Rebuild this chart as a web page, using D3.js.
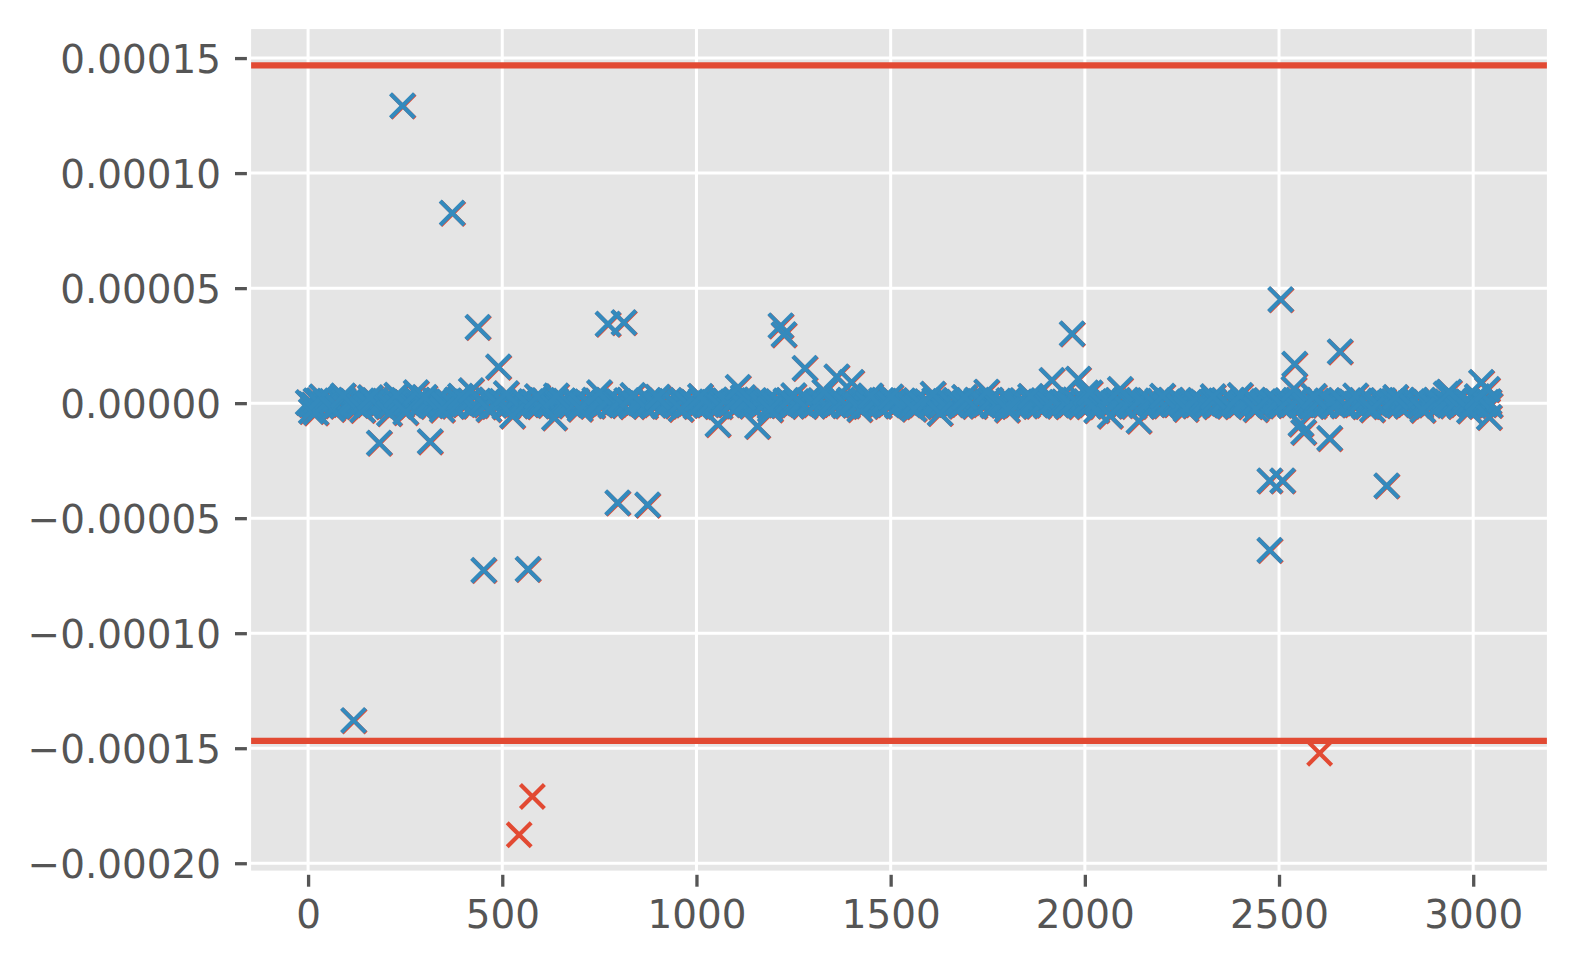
<!DOCTYPE html>
<html><head><meta charset="utf-8">
<script src="https://cdn.jsdelivr.net/npm/d3@7"></script>
<style>body{margin:0;background:#fff}svg{display:block}</style>
</head><body>
<svg id="chart" width="1578" height="966"></svg>
<script>
// values are given in millionths (×1e-6)
const UNIT = 1e-6;
const threshold = 146.8;

// dense band of near-zero residuals: [index, value]
const bandPoints = [
[0,0.3],[14,-0.8],[27,1.2],[41,-0.4],[55,0.9],[68,-1.3],[82,0.5],[96,-0.2],[110,1.4],[123,-0.9],
[137,0.2],[151,-1.1],[164,0.7],[178,-0.5],[192,1.0],[205,-1.4],[219,0.4],[233,-0.3],[246,1.3],[260,-0.7],
[274,0.1],[287,-1.2],[301,0.8],[315,-0.6],[328,1.1],[342,-0.1],[356,0.6],[369,-1.0],[383,1.5],[397,-0.4],
[410,0.3],[424,-1.3],[438,0.9],[451,-0.2],[465,1.2],[479,-0.8],[492,0.5],[506,-1.5],[520,0.2],[533,-0.6],
[547,1.0],[561,-0.3],[574,0.7],[588,-1.1],[602,1.3],[615,-0.5],[629,0.4],[643,-0.9],[656,1.1],[670,-0.2],
[684,0.6],[697,-1.2],[711,0.9],[725,-0.4],[738,1.4],[752,-0.7],[766,0.2],[779,-1.0],[793,0.8],[807,-0.3],
[820,1.2],[834,-1.4],[848,0.5],[861,-0.1],[875,1.0],[889,-0.8],[902,0.3],[916,-1.2],[930,1.3],[943,-0.5],
[957,0.7],[971,-0.9],[984,0.1],[998,-1.3],[1012,1.1],[1025,-0.2],[1039,0.6],[1053,-1.0],[1066,1.4],[1080,-0.6],
[1094,0.4],[1107,-1.1],[1121,0.9],[1135,-0.3],[1148,1.2],[1162,-0.7],[1176,0.2],[1189,-1.4],[1203,0.8],[1217,-0.4],
[1230,1.0],[1244,-0.9],[1258,0.5],[1271,-0.1],[1285,1.3],[1299,-1.2],[1312,0.7],[1326,-0.5],[1340,1.1],[1353,-0.8],
[1367,0.3],[1381,-1.0],[1394,1.4],[1408,-0.2],[1422,0.6],[1435,-1.3],[1449,0.9],[1463,-0.6],[1476,1.2],[1490,-0.3],
[1504,0.4],[1517,-1.1],[1531,1.0],[1545,-0.7],[1558,0.2],[1572,-1.4],[1586,0.8],[1599,-0.1],[1613,1.3],[1627,-0.9],
[1640,0.5],[1654,-0.4],[1668,1.1],[1681,-1.2],[1695,0.7],[1709,-0.5],[1722,1.4],[1736,-0.8],[1750,0.3],[1763,-1.0],
[1777,0.9],[1791,-0.2],[1804,1.2],[1818,-1.3],[1832,0.6],[1845,-0.6],[1859,1.0],[1873,-0.3],[1886,0.4],[1900,-1.1],
[1914,1.3],[1927,-0.7],[1941,0.2],[1955,-1.4],[1968,0.8],[1982,-0.4],[1996,1.1],[2009,-0.9],[2023,0.5],[2037,-0.1],
[2050,1.2],[2064,-1.2],[2078,0.7],[2091,-0.5],[2105,1.4],[2119,-0.8],[2132,0.3],[2146,-1.0],[2160,0.9],[2173,-0.3],
[2187,1.0],[2201,-1.3],[2214,0.6],[2228,-0.6],[2242,1.3],[2255,-0.2],[2269,0.4],[2283,-1.1],[2296,1.1],[2310,-0.7],
[2324,0.2],[2337,-1.4],[2351,0.8],[2365,-0.4],[2378,1.2],[2392,-0.9],[2406,0.5],[2419,-0.1],[2433,1.4],[2447,-1.2],
[2460,0.7],[2474,-0.5],[2488,1.0],[2501,-0.8],[2515,0.3],[2529,-1.0],[2542,1.3],[2556,-0.3],[2570,0.6],[2583,-1.3],
[2597,0.9],[2611,-0.6],[2624,1.1],[2638,-0.2],[2652,0.4],[2665,-1.1],[2679,1.2],[2693,-0.7],[2706,0.2],[2720,-1.4],
[2734,0.8],[2747,-0.4],[2761,1.0],[2775,-0.9],[2788,0.5],[2802,-0.1],[2816,1.3],[2829,-1.2],[2843,0.7],[2857,-0.5],
[2870,1.4],[2884,-0.8],[2898,0.3],[2911,-1.0],[2925,0.9],[2939,-0.3],[2952,1.1],[2966,-1.3],[2980,0.6],[2993,-0.6],
[3007,1.2],[3021,-0.2],[3034,0.4],[3043,-0.9]
];

// more near-zero residuals between the ones above
const bandPointsB = [
[7,-0.5],[20,1.1],[34,-1.2],[48,0.3],[61,0.8],[75,-1.0],[89,1.5],[103,-0.3],[116,0.2],[130,-1.4],
[144,0.9],[157,-0.6],[171,1.3],[185,-0.1],[198,0.5],[212,-1.1],[226,1.0],[240,-0.8],[253,0.4],[267,-1.3],
[281,1.2],[294,-0.2],[308,0.6],[322,-0.9],[335,1.4],[349,-0.5],[363,0.1],[376,-1.2],[390,0.7],[404,-0.4],
[417,1.1],[431,-1.0],[445,0.3],[458,-0.7],[472,1.5],[486,-0.1],[499,0.8],[513,-1.3],[527,0.5],[540,-0.3],
[554,1.2],[568,-0.9],[581,0.2],[595,-1.4],[609,0.9],[622,-0.6],[636,1.3],[650,-0.2],[663,0.4],[677,-1.1],
[691,1.0],[704,-0.8],[718,0.6],[732,-1.2],[745,0.3],[759,-0.5],[773,1.4],[786,-0.1],[800,0.7],[814,-1.0],
[827,1.1],[841,-0.4],[855,0.2],[868,-1.3],[882,0.8],[896,-0.6],[909,1.2],[923,-0.2],[937,0.5],[950,-1.1],
[964,1.3],[978,-0.7],[991,0.4],[1005,-0.9],[1019,1.0],[1032,-0.3],[1046,0.1],[1060,-1.4],[1073,0.9],[1087,-0.5],
[1101,1.5],[1114,-0.2],[1128,0.6],[1142,-1.2],[1155,0.3],[1169,-0.8],[1183,1.1],[1196,-0.1],[1210,0.7],[1224,-1.0],
[1237,1.3],[1251,-0.6],[1265,0.2],[1278,-1.3],[1292,0.8],[1306,-0.4],[1319,1.2],[1333,-0.9],[1347,0.5],[1360,-0.2],
[1374,1.0],[1388,-1.1],[1401,0.4],[1415,-0.7],[1429,1.4],[1442,-0.3],[1456,0.6],[1470,-1.2],[1483,0.9],[1497,-0.5],
[1511,1.1],[1524,-0.1],[1538,0.3],[1552,-1.4],[1565,1.2],[1579,-0.6],[1593,0.7],[1606,-0.9],[1620,0.2],[1634,-0.4],
[1647,1.3],[1661,-1.0],[1675,0.5],[1688,-0.2],[1702,1.0],[1716,-1.3],[1729,0.8],[1743,-0.5],[1757,1.4],[1770,-0.7],
[1784,0.1],[1798,-1.1],[1811,0.9],[1825,-0.3],[1839,1.2],[1852,-0.8],[1866,0.4],[1880,-1.2],[1893,0.6],[1907,-0.1],
[1921,1.5],[1934,-0.9],[1948,0.3],[1962,-0.6],[1975,1.1],[1989,-1.4],[2003,0.7],[2016,-0.2],[2030,1.0],[2044,-1.0],
[2057,0.5],[2071,-0.4],[2085,1.3],[2098,-0.7],[2112,0.2],[2126,-1.3],[2139,0.9],[2153,-0.1],[2167,1.2],[2180,-0.6],
[2194,0.4],[2208,-1.1],[2221,1.4],[2235,-0.3],[2249,0.6],[2262,-0.9],[2276,1.1],[2290,-0.5],[2303,0.1],[2317,-1.2],
[2331,0.8],[2344,-0.2],[2358,1.3],[2372,-1.0],[2385,0.3],[2399,-0.7],[2413,1.0],[2426,-1.4],[2440,0.5],[2454,-0.4],
[2467,1.2],[2481,-0.1],[2495,0.7],[2508,-1.1],[2522,0.9],[2536,-0.6],[2549,1.4],[2563,-0.3],[2577,0.2],[2590,-1.2],
[2604,1.0],[2618,-0.8],[2631,0.4],[2645,-0.5],[2659,1.3],[2672,-0.9],[2686,0.6],[2700,-0.2],[2713,1.1],[2727,-1.3],
[2741,0.3],[2754,-0.6],[2768,1.2],[2782,-0.1],[2795,0.8],[2809,-1.0],[2823,0.5],[2836,-0.4],[2850,1.4],[2864,-1.2],
[2877,0.2],[2891,-0.7],[2905,1.0],[2918,-0.3],[2932,0.6],[2946,-1.1],[2959,1.3],[2973,-0.5],[2987,0.4],[3000,-0.9],
[3014,1.1],[3028,-0.6],[3040,0.7]
];

// small deviations that roughen the band edges
const smallDeviations = [
[8,-3.5],[20,-4.1],[35,2.8],[62,-2.6],[90,3.2],[140,-3.0],[160,2.5],[209,-4.5],[228,3.5],[251,-4.0],
[278,4.6],[300,2.6],[345,-2.9],[392,3.1],[420,5.5],[465,-2.7],[510,4.2],[526,-5.5],[590,2.9],[634,-6.3],
[639,3.2],[700,-2.5],[750,4.6],[836,3.4],[900,2.7],[960,-2.6],[1010,3.0],[1120,2.5],[1190,-2.8],[1250,3.3],
[1330,5.0],[1420,-2.7],[1448,3.2],[1500,2.8],[1560,-2.5],[1609,4.0],[1627,-4.4],[1690,2.6],[1747,4.9],[1800,-2.9],
[1860,3.0],[1915,10.0],[1983,10.5],[2003,4.5],[2013,4.5],[2030,-3.2],[2091,6.0],[2200,3.1],[2260,-2.6],[2330,2.9],
[2400,3.4],[2440,-2.7],[2590,3.0],[2697,3.2],[2740,-2.8],[2800,2.6],[2870,-3.0],[2930,4.0],[2938,4.9],[2990,-3.3],
[3010,2.9]
];

// large deviations / outliers
const largeDeviations = [
[117,-137.9],[183,-17.3],[243,129.3],[314,-16.7],[371,82.7],[437,33.0],[452,-72.6],[490,15.8],[542,-187.4],[566,-72.2],
[576,-170.7],[772,34.4],[813,35.1],[797,-43.3],[874,-44.2],[1055,-9.2],[1107,6.9],[1157,-10.0],[1217,33.7],[1225,29.8],
[1279,15.2],[1361,11.5],[1399,9.1],[1967,30.2],[2065,-5.5],[2139,-7.7],[2476,-33.7],[2476,-63.9],[2504,45.1],[2509,-33.7],
[2540,17.0],[2538,6.2],[2556,-9.0],[2563,-12.6],[2630,-15.3],[2657,22.4],[2603,-151.9],[2777,-35.9],[3021,9.1],[3036,6.0],
[3041,-6.1]
];

const xTicks = [0,500,1000,1500,2000,2500,3000];
const xTickLabels = ["0","500","1000","1500","2000","2500","3000"];
const yTicks = [-0.0002,-0.00015,-0.0001,-0.00005,0,0.00005,0.0001,0.00015];
const yTickLabels = ["\u22120.00020","\u22120.00015","\u22120.00010","\u22120.00005","0.00000","0.00005","0.00010","0.00015"];

const BLUE = "#348ABD", RED = "#E24A33";
const data = [...bandPoints, ...bandPointsB, ...smallDeviations, ...largeDeviations]
  .map(([i, v]) => ({x: i, y: v * UNIT}));
const limit = threshold * UNIT;

const box = {left: 249, top: 27, right: 1549, bottom: 872.7};
const svg = d3.select("#chart");

const [xMin, xMax] = d3.extent(data, d => d.x);
const xPad = (xMax - xMin) * 0.05;
const yLo = Math.min(d3.min(data, d => d.y), -limit);
const yHi = Math.max(d3.max(data, d => d.y), limit);
const yPad = (yHi - yLo) * 0.05;

const x = d3.scaleLinear().domain([xMin - xPad, xMax + xPad]).range([box.left, box.right]);
const y = d3.scaleLinear().domain([yLo - yPad, yHi + yPad]).range([box.bottom, box.top]);

svg.append("rect").attr("x", box.left).attr("y", box.top)
  .attr("width", box.right - box.left).attr("height", box.bottom - box.top).attr("fill", "#E5E5E5");

// grid
const grid = svg.append("g").attr("stroke", "#fff").attr("stroke-width", 3);
grid.selectAll("line.gx").data(xTicks).join("line")
  .attr("x1", d => x(d)).attr("x2", d => x(d)).attr("y1", box.top).attr("y2", box.bottom);
grid.selectAll("line.gy").data(yTicks).join("line")
  .attr("y1", d => y(d)).attr("y2", d => y(d)).attr("x1", box.left).attr("x2", box.right);

svg.append("clipPath").attr("id", "clip").append("rect")
  .attr("x", box.left).attr("y", box.top).attr("width", box.right - box.left).attr("height", box.bottom - box.top);

const plot = svg.append("g").attr("clip-path", "url(#clip)");
const a = 12;
const xMark = `M${-a},${-a}L${a},${a}M${-a},${a}L${a},${-a}`;

// all points in red
plot.append("g").selectAll("path").data(data).join("path")
  .attr("d", xMark).attr("transform", d => `translate(${x(d.x) + 0.6},${y(d.y) + 0.6})`)
  .attr("fill", "none").attr("stroke", RED).attr("stroke-width", 4.2);
// inliers in blue
plot.append("g").selectAll("path").data(data.filter(d => Math.abs(d.y) <= limit)).join("path")
  .attr("d", xMark).attr("transform", d => `translate(${x(d.x)},${y(d.y)})`)
  .attr("fill", "none").attr("stroke", BLUE).attr("stroke-width", 4.2);

// threshold lines
plot.selectAll("line.th").data([limit, -limit]).join("line")
  .attr("x1", box.left).attr("x2", box.right).attr("y1", d => y(d)).attr("y2", d => y(d))
  .attr("stroke", RED).attr("stroke-width", 6.25);

// axes
const xAxis = d3.axisBottom(x).tickValues(xTicks).tickFormat((d, i) => xTickLabels[i]).tickSize(14).tickPadding(12);
const yAxis = d3.axisLeft(y).tickValues(yTicks).tickFormat((d, i) => yTickLabels[i]).tickSize(14).tickPadding(14);

const gx = svg.append("g").attr("transform", `translate(0,${box.bottom})`).call(xAxis);
const gy = svg.append("g").attr("transform", `translate(${box.left},0)`).call(yAxis);
[gx, gy].forEach(g => {
  g.select(".domain").remove();
  g.selectAll(".tick line").attr("stroke", "#555555").attr("stroke-width", 3.3);
  g.selectAll(".tick text").attr("fill", "#555555").attr("font-family", "DejaVu Sans")
    .attr("font-size", 38.9);
});
gx.selectAll(".tick text").attr("dy", null).attr("dominant-baseline", "hanging").attr("y", 27);
gy.selectAll(".tick text").attr("dy", "0.36em");

// white spine
svg.append("rect").attr("x", box.left).attr("y", box.top)
  .attr("width", box.right - box.left).attr("height", box.bottom - box.top)
  .attr("fill", "none").attr("stroke", "#fff").attr("stroke-width", 4.2);
</script>
</body></html>
